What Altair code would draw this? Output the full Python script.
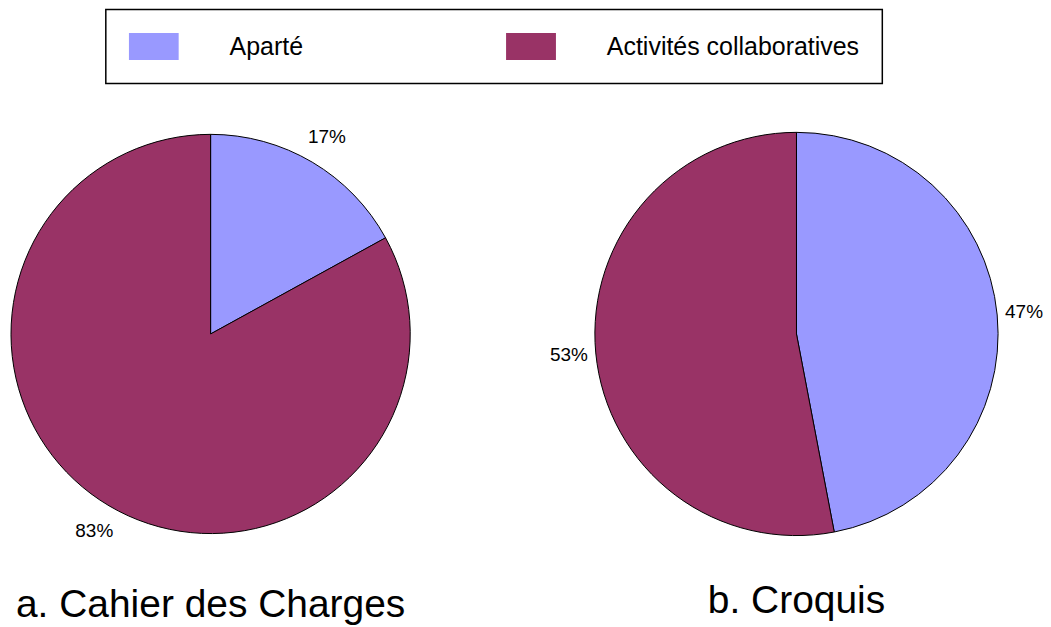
import altair as alt
import pandas as pd

categories = ["Aparté", "Activités collaboratives"]
colors = ["#9999FF", "#993366"]
cahier_values = [17, 83]
croquis_values = [47, 53]
cahier_labels = ["17%", "83%"]
croquis_labels = ["47%", "53%"]
panel_titles = ["a. Cahier des Charges", "b. Croquis"]

FONT = "Liberation Sans"


def pie(values, labels, title, radius):
    df = pd.DataFrame({
        "cat": categories,
        "value": values,
        "label": labels,
        "idx": list(range(len(categories))),
    })
    base = alt.Chart(df).encode(
        theta=alt.Theta("value:Q", stack=True),
        order=alt.Order("idx:Q", sort="ascending"),
    )
    arcs = base.mark_arc(outerRadius=radius, stroke="black", strokeWidth=1).encode(
        color=alt.Color(
            "cat:N",
            scale=alt.Scale(domain=categories, range=colors),
            legend=alt.Legend(
                title=None,
                orient="none",
                legendX=98,
                legendY=-124,
                columns=2,
                columnPadding=203,
                symbolType="M-1,-0.54H1V0.54H-1Z",
                symbolSize=2500,
                symbolStrokeWidth=0,
                symbolOpacity=1,
                labelFont=FONT,
                labelFontSize=25,
                labelColor="black",
                labelOffset=51,
                labelLimit=500,
                padding=23,
                clipHeight=28,
                strokeColor="black",
                direction="horizontal",
            ),
        )
    )
    text = base.mark_text(radius=229, fontSize=19, font=FONT, color="black").encode(
        text="label:N"
    )
    return alt.layer(arcs, text).properties(
        width=406,
        height=402,
        title=alt.TitleParams(
            text=title,
            orient="bottom",
            anchor="middle",
            fontSize=39,
            font=FONT,
            fontWeight="normal",
            color="black",
            offset=45,
        ),
    )


left = pie(cahier_values, cahier_labels, panel_titles[0], 200)
right = pie(croquis_values, croquis_labels, panel_titles[1], 202)

chart = (
    alt.hconcat(left, right, spacing=181, bounds="flush")
    .properties(padding=0)
    .configure_view(strokeWidth=0)
    .configure_legend(strokeWidth=1.5)
)

chart.save("out.html", embed_options={"renderer": "svg", "actions": False})
